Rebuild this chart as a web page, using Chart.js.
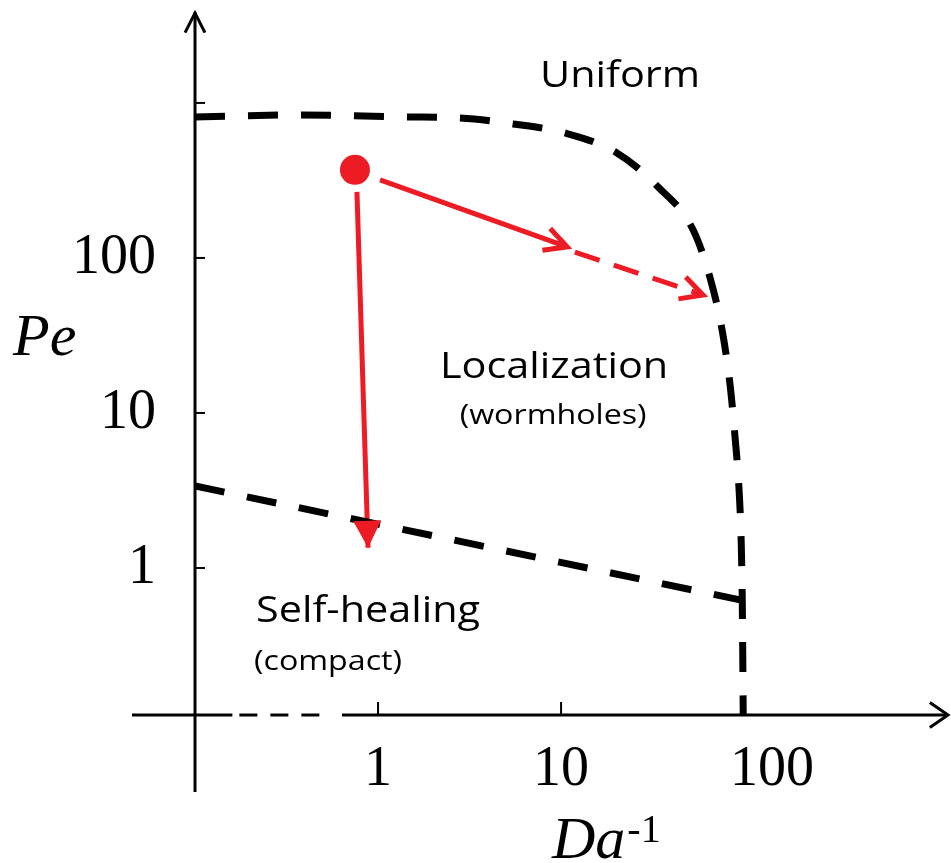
<!DOCTYPE html>
<html lang="en">
<head>
<meta charset="UTF-8">
<title>Pe vs Da-1 diagram</title>
<script src="https://cdn.jsdelivr.net/npm/chart.js@4.4.0/dist/chart.umd.min.js"></script>
<style>
  html, body { margin: 0; padding: 0; background: #fff; }
</style>
</head>
<body>
<canvas id="myChart" width="951" height="863"></canvas>
<script>
// axis ranges (both log)
var daMin = 0.1, daMax = 1300;
var peMin = 0.1126, peMax = 3860;
var daTicks = [1, 10, 100];
var daTickLabels = ['1', '10', '100'];
var peTicks = [1, 10, 100, 1000];
var peTickLabels = ['1', '10', '100', ''];
// dashed stretch of the Da axis
var daAxisGap = [0.16, 0.56];

// upper boundary (uniform / localization)
var upperDa = [0.1, 0.375, 1.40, 2.81, 5.47, 10.5, 20.2, 33.9, 52.6, 65.2, 75.8, 83.8, 89.3, 94.0, 96.5, 97.7, 98.9];
var upperPe = [812, 837, 812, 800, 732, 640, 476, 287, 152, 74.3, 34.3, 15.2, 6.90, 3.09, 1.41, 0.622, 0.1126];

// lower boundary (localization / self-healing)
var lowerDa = [0.1, 96.5];
var lowerPe = [3.38, 0.62];

// starting point and the two arrows
var startDa = [0.748];
var startPe = [370];
var downDa = [0.767, 0.882];
var downPe = [267, 1.35];
var sideDa = [1.026, 10.8];
var sidePe = [319, 118];
var sideDashDa = [11.9, 59.7];
var sideDashPe = [109, 57.7];

// region names
var regionText = ['Uniform', 'Localization', '(wormholes)', 'Self-healing', '(compact)'];
var regionDa = [21.0, 9.16, 9.05, 0.882, 0.533];
var regionPe = [1472, 19.5, 9.57, 0.520, 0.248];

var RED = '#ed1c24';
var SERIF = '"Liberation Serif", "Times New Roman", serif';
var SANS = '"Open Sans", "Noto Sans", sans-serif';
var TEXT_STRETCH = 1.15;

function pts(xs, ys) {
  return xs.map(function (x, i) { return { x: x, y: ys[i] }; });
}

function line(ctx, x1, y1, x2, y2) {
  ctx.beginPath();
  ctx.moveTo(x1, y1);
  ctx.lineTo(x2, y2);
  ctx.stroke();
}

// open "V" head, tip at (x, y), pointing along angle a
function vHead(ctx, x, y, a, len, spread) {
  ctx.beginPath();
  ctx.moveTo(x - len * Math.cos(a - spread), y - len * Math.sin(a - spread));
  ctx.lineTo(x, y);
  ctx.lineTo(x - len * Math.cos(a + spread), y - len * Math.sin(a + spread));
  ctx.stroke();
}

function lastAngle(meta) {
  var n = meta.data.length;
  var p = meta.data[n - 1], q = meta.data[n - 2];
  return { x: p.x, y: p.y, a: Math.atan2(p.y - q.y, p.x - q.x) };
}

// no extra room for edge labels, the axes run to the canvas edges
function noPad(s) {
  s.paddingTop = 0;
  s.paddingBottom = 0;
  s.paddingLeft = 0;
  s.paddingRight = 0;
}

var diagramPlugin = {
  id: 'diagram',
  beforeDatasetsDraw: function (chart) {
    var ctx = chart.ctx, a = chart.chartArea;
    var xs = chart.scales.x, ys = chart.scales.y;
    var x0 = a.left, y0 = a.bottom;
    ctx.save();
    ctx.strokeStyle = '#000';
    ctx.lineWidth = 3;
    ctx.lineJoin = 'miter';

    // Pe axis, running a little below the Da axis
    line(ctx, x0, y0 + 77, x0, a.top);
    vHead(ctx, x0, a.top + 1, -Math.PI / 2, 22, 0.47);

    // Da axis: solid, dashed stretch, solid
    var g1 = xs.getPixelForValue(daAxisGap[0]);
    var g2 = xs.getPixelForValue(daAxisGap[1]);
    line(ctx, x0 - 63, y0, g1, y0);
    ctx.setLineDash([18, 13]);
    line(ctx, g1 + 7, y0, g2, y0);
    ctx.setLineDash([]);
    line(ctx, g2 + 10, y0, a.right - 1, y0);
    vHead(ctx, a.right, y0, 0, 22, 0.6);

    // inner tick marks
    ctx.lineWidth = 2;
    xs.ticks.forEach(function (t) {
      var px = xs.getPixelForValue(t.value);
      line(ctx, px, y0, px, y0 - 13);
    });
    ys.ticks.forEach(function (t) {
      var py = ys.getPixelForValue(t.value);
      line(ctx, x0, py, x0 + 10, py);
    });
    ctx.restore();
  },
  afterDatasetsDraw: function (chart) {
    var ctx = chart.ctx;
    var xs = chart.scales.x, ys = chart.scales.y;
    ctx.save();

    // arrow heads
    ctx.strokeStyle = RED;
    ctx.fillStyle = RED;
    ctx.lineWidth = 5;
    ctx.lineJoin = 'miter';
    var d = lastAngle(chart.getDatasetMeta(3));
    ctx.beginPath();
    ctx.moveTo(d.x, d.y);
    ctx.lineTo(d.x - 27 * Math.cos(d.a) + 14 * Math.sin(d.a), d.y - 27 * Math.sin(d.a) - 14 * Math.cos(d.a));
    ctx.lineTo(d.x - 27 * Math.cos(d.a) - 14 * Math.sin(d.a), d.y - 27 * Math.sin(d.a) + 14 * Math.cos(d.a));
    ctx.closePath();
    ctx.fill();
    [4, 5].forEach(function (i) {
      var h = lastAngle(chart.getDatasetMeta(i));
      vHead(ctx, h.x, h.y, h.a, 25, 0.48);
    });

    // region names
    ctx.fillStyle = '#000';
    ctx.textAlign = 'center';
    ctx.textBaseline = 'middle';
    regionText.forEach(function (t, i) {
      var small = t.charAt(0) === '(';
      ctx.font = (small ? '28px ' : '36px ') + SANS;
      ctx.save();
      ctx.translate(xs.getPixelForValue(regionDa[i]), ys.getPixelForValue(regionPe[i]));
      ctx.scale(TEXT_STRETCH, 1);
      ctx.fillText(t, 0, 0);
      ctx.restore();
    });

    // axis titles
    ctx.textAlign = 'left';
    ctx.textBaseline = 'alphabetic';
    ctx.font = 'italic 60px ' + SERIF;
    ctx.fillText('Pe', 13, 355);
    ctx.fillText('Da', 552, 858);
    var w = ctx.measureText('Da').width;
    ctx.font = '40px ' + SERIF;
    ctx.fillText('-1', 552 + w + 2, 842);
    ctx.restore();
  }
};

var ctx = document.getElementById('myChart').getContext('2d');
var myChart = new Chart(ctx, {
  type: 'scatter',
  data: {
    datasets: [
      {
        label: 'upper boundary',
        data: pts(upperDa, upperPe),
        showLine: true,
        borderColor: '#000',
        borderWidth: 7,
        borderDash: [30, 23],
        cubicInterpolationMode: 'monotone',
        pointRadius: 0
      },
      {
        label: 'lower boundary',
        data: pts(lowerDa, lowerPe),
        showLine: true,
        borderColor: '#000',
        borderWidth: 7,
        borderDash: [30, 23],
        pointRadius: 0
      },
      {
        label: 'start',
        data: pts(startDa, startPe),
        pointRadius: 15,
        pointBackgroundColor: RED,
        pointBorderWidth: 0
      },
      {
        label: 'to self-healing',
        data: pts(downDa, downPe),
        showLine: true,
        borderColor: RED,
        borderWidth: 5,
        pointRadius: 0
      },
      {
        label: 'to localization',
        data: pts(sideDa, sidePe),
        showLine: true,
        borderColor: RED,
        borderWidth: 5,
        pointRadius: 0
      },
      {
        label: 'to localization (continued)',
        data: pts(sideDashDa, sideDashPe),
        showLine: true,
        borderColor: RED,
        borderWidth: 5,
        borderDash: [26, 15],
        pointRadius: 0
      }
    ]
  },
  options: {
    responsive: false,
    animation: false,
    layout: { autoPadding: false, padding: { top: 12, right: 3, left: 0, bottom: 0 } },
    plugins: {
      legend: { display: false },
      tooltip: { enabled: false }
    },
    scales: {
      x: {
        type: 'logarithmic',
        position: 'bottom',
        min: daMin,
        max: daMax,
        grid: { display: false },
        border: { display: false },
        afterBuildTicks: function (s) {
          s.ticks = daTicks.map(function (v) { return { value: v }; });
        },
        afterFit: function (s) { s.height = 148; noPad(s); },
        ticks: {
          autoSkip: false,
          maxRotation: 0,
          padding: 14,
          color: '#000',
          font: { family: SERIF, size: 56 },
          callback: function (v) {
            var label = daTickLabels[daTicks.indexOf(v)];
            // the last label sits a bit right of its tick in the original
            return v === 100 ? '\u2007\u2007' + label : label;
          }
        }
      },
      y: {
        type: 'logarithmic',
        min: peMin,
        max: peMax,
        grid: { display: false },
        border: { display: false },
        afterBuildTicks: function (s) {
          s.ticks = peTicks.map(function (v) { return { value: v }; });
        },
        afterFit: function (s) { s.width = 195; noPad(s); },
        ticks: {
          autoSkip: false,
          padding: 31,
          color: '#000',
          font: { family: SERIF, size: 56 },
          callback: function (v) {
            return peTickLabels[peTicks.indexOf(v)];
          }
        }
      }
    }
  },
  plugins: [diagramPlugin]
});
</script>
</body>
</html>
